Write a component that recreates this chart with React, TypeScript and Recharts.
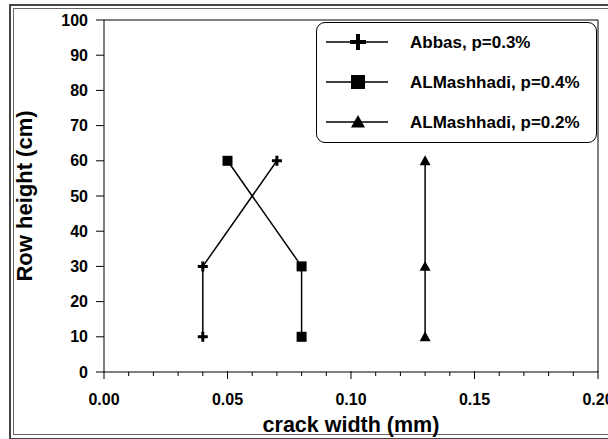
import React from "react";
import {
  ReferenceLine,
  Scatter,
  ScatterChart,
  XAxis,
  YAxis,
} from "recharts";

const seriesNames = ["Abbas, p=0.3%", "ALMashhadi, p=0.4%", "ALMashhadi, p=0.2%"];
const abbas03 = [
  { x: 0.04, y: 10 },
  { x: 0.04, y: 30 },
  { x: 0.07, y: 60 },
];
const mashhadi04 = [
  { x: 0.08, y: 10 },
  { x: 0.08, y: 30 },
  { x: 0.05, y: 60 },
];
const mashhadi02 = [
  { x: 0.13, y: 10 },
  { x: 0.13, y: 30 },
  { x: 0.13, y: 60 },
];
const xTicks = [
  0, 0.01, 0.02, 0.03, 0.04, 0.05, 0.06, 0.07, 0.08, 0.09, 0.1, 0.11, 0.12, 0.13,
  0.14, 0.15, 0.16, 0.17, 0.18, 0.19, 0.2,
];
const xMajor = [0, 0.05, 0.1, 0.15, 0.2];
const yTicks = [0, 10, 20, 30, 40, 50, 60, 70, 80, 90, 100];

const FONT = "'Liberation Sans', Arial, sans-serif";

const Plus = ({ cx, cy, s = 5, w = 3 }: any) => (
  <path
    d={`M${cx - s},${cy}H${cx + s}M${cx},${cy - s}V${cy + s}`}
    stroke="#000"
    strokeWidth={w}
    fill="none"
  />
);
const Square = ({ cx, cy, s = 5 }: any) => (
  <rect x={cx - s} y={cy - s} width={s * 2} height={s * 2} fill="#000" />
);
const Triangle = ({ cx, cy, s = 5.5 }: any) => (
  <path d={`M${cx},${cy - s}L${cx + s},${cy + s * 0.8}L${cx - s},${cy + s * 0.8}Z`} fill="#000" />
);

const shapes = [Plus, Square, Triangle];

const XTick = (props: any) => {
  const { x, y, payload } = props;
  const v = payload.value;
  const major = xMajor.some((m) => Math.abs(m - v) < 1e-9);
  return (
    <g>
      <line x1={x} x2={x} y1={major ? y - 1 : y} y2={major ? y + 7 : y + 4} stroke="#000" />
      {major && (
        <text x={x} y={y + 33} textAnchor="middle" fontFamily={FONT} fontWeight="bold" fontSize={16} fill="#000">
          {v.toFixed(2)}
        </text>
      )}
    </g>
  );
};

const LegendBox = () => (
  <div
    style={{
      position: "absolute",
      left: 316,
      top: 22,
      width: 281,
      height: 121,
      border: "1px solid #000",
      borderRadius: 9,
      background: "#fff",
      boxSizing: "border-box",
    }}
  >
    <svg width={279} height={119} style={{ display: "block" }}>
      {seriesNames.map((name, i) => {
        const cy = 19 + i * 40;
        const Shape = shapes[i];
        return (
          <g key={name}>
            <line x1={9} x2={71} y1={cy} y2={cy} stroke="#000" strokeWidth={1.5} />
            <Shape cx={41} cy={cy} s={i === 0 ? 8 : 7} w={4} />
            <text x={93} y={cy + 6} fontFamily={FONT} fontWeight="bold" fontSize={17} fill="#000">
              {name}
            </text>
          </g>
        );
      })}
    </svg>
  </div>
);

const allSeries = [abbas03, mashhadi04, mashhadi02];

export default function App() {
  return (
    <div style={{ position: "absolute", left: 0, top: 0, width: 608, height: 439, background: "#fff", overflow: "hidden" }}>
      <div style={{ position: "absolute", left: 9, top: 4, width: 620, height: 432, border: "2px solid #444" }} />
      <div style={{ position: "absolute", left: 13, top: 8, width: 620, height: 425, border: "1px solid #666" }} />
      <div style={{ position: "absolute", left: 0, top: 0 }}>
        <ScatterChart width={608} height={439} margin={{ top: 20, right: 10, bottom: 0, left: 0 }}>
          <XAxis
            type="number"
            dataKey="x"
            domain={[0, 0.2]}
            ticks={xTicks}
            interval={0}
            tickSize={0}
            tickMargin={0}
            height={67}
            stroke="#000"
            tick={<XTick />}
            allowDataOverflow
            label={{
              value: "crack width (mm)",
              position: "insideBottom",
              offset: 7,
              style: { fontFamily: FONT, fontWeight: "bold", fontSize: 21.5, fill: "#000" },
            }}
          />
          <YAxis
            type="number"
            dataKey="y"
            domain={[0, 100]}
            ticks={yTicks}
            interval={0}
            width={104}
            tickSize={8}
            tickMargin={8}
            stroke="#000"
            tick={{ fontFamily: FONT, fontWeight: "bold", fontSize: 16, fill: "#000" }}
            allowDataOverflow
            label={{
              value: "Row height (cm)",
              angle: -90,
              position: "insideLeft",
              offset: 24,
              style: { textAnchor: "middle", fontFamily: FONT, fontWeight: "bold", fontSize: 22, fill: "#000" },
            }}
          />
          <ReferenceLine y={100} stroke="#000" />
          <ReferenceLine x={0.2} stroke="#000" />
          {allSeries.map((data, i) => (
            <Scatter
              key={seriesNames[i]}
              name={seriesNames[i]}
              data={data}
              line={{ stroke: "#000", strokeWidth: 1.5 }}
              lineType="joint"
              shape={shapes[i]}
              isAnimationActive={false}
            />
          ))}
        </ScatterChart>
      </div>
      <LegendBox />
    </div>
  );
}
